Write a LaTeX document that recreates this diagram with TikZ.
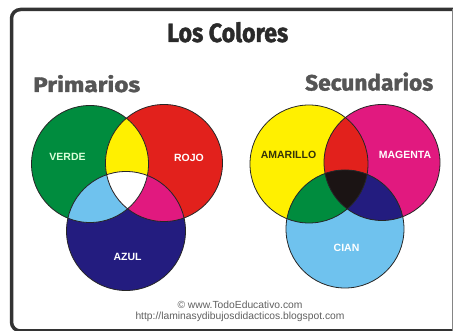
\documentclass[tikz,border=0pt]{standalone}
\usepackage{fontspec}
\setmainfont{Liberation Sans}
\newfontfamily\titlefont{Fira Sans}[BoldFeatures={FakeBold=1.6}]
\usetikzlibrary{positioning}
\definecolor{cgreen}{HTML}{008C3E}
\definecolor{cred}{HTML}{E2211C}
\definecolor{cyellow}{HTML}{FFF000}
\definecolor{cnavy}{HTML}{231C7F}
\definecolor{clight}{HTML}{6FC2EE}
\definecolor{cmag}{HTML}{E1197F}
\definecolor{cblack}{HTML}{1B1414}
\definecolor{ctitle}{HTML}{2A2A2A}
\definecolor{csub}{HTML}{555555}
\definecolor{cfoot}{HTML}{606060}
\definecolor{cframe}{HTML}{333333}
\definecolor{camar}{HTML}{33330A}
\tikzset{
  outline/.style={draw=black!85, line width=0.8pt},
  lbl/.style={font=\fontsize{10.5}{12}\selectfont\bfseries, inner sep=0pt},
  foot/.style={font=\fontsize{10.3}{12}\selectfont, text=cfoot, inner sep=0pt},
  heading/.style={inner sep=0pt, anchor=base west},
}
\begin{document}
\begin{tikzpicture}[x=1pt,y=-1pt]
\useasboundingbox (0,0) rectangle (453,331);
\fill[white] (0,0) rectangle (453,331);
\draw[cframe, line width=3.5pt, rounded corners=9pt] (11.5,9.5) rectangle (470,331);
\draw[cframe!60, line width=1.2pt] (452.6,9.5) -- (452.6,331);

% titles
\node[heading, text=ctitle] (title) at (167,42) {\resizebox{121pt}{20pt}{\titlefont\bfseries Los Colores}};
\node[heading, text=csub] (prim) at (33,92) {\resizebox{107pt}{17pt}{\titlefont\bfseries Primarios}};
\node[heading, text=csub] (secu) at (305,90.5) {\resizebox{128pt}{18pt}{\titlefont\bfseries Secundarios}};

% centres
\coordinate (G) at (90,164);
\coordinate (R) at (164,163);
\coordinate (B) at (126,231);
\coordinate (Y) at (309,164);
\coordinate (M) at (382,162.5);
\coordinate (C) at (345,229);
\def\rG{58.5pt}\def\rR{58.5pt}\def\rB{59.5pt}
\def\rY{59pt}\def\rM{58pt}\def\rC{59pt}

% primarios
\fill[cgreen] (G) circle[radius=\rG];
\fill[cred] (R) circle[radius=\rR];
\fill[cnavy] (B) circle[radius=\rB];
\begin{scope}\clip (G) circle[radius=\rG]; \fill[cyellow] (R) circle[radius=\rR]; \end{scope}
\begin{scope}\clip (G) circle[radius=\rG]; \fill[clight] (B) circle[radius=\rB]; \end{scope}
\begin{scope}\clip (R) circle[radius=\rR]; \fill[cmag] (B) circle[radius=\rB]; \end{scope}
\begin{scope}\clip (G) circle[radius=\rG]; \clip (R) circle[radius=\rR]; \fill[white] (B) circle[radius=\rB]; \end{scope}
\draw[outline] (G) circle[radius=\rG];
\draw[outline] (R) circle[radius=\rR];
\draw[outline] (B) circle[radius=\rB];

% secundarios
\fill[cyellow] (Y) circle[radius=\rY];
\fill[cmag] (M) circle[radius=\rM];
\fill[clight] (C) circle[radius=\rC];
\begin{scope}\clip (Y) circle[radius=\rY]; \fill[cred] (M) circle[radius=\rM]; \end{scope}
\begin{scope}\clip (Y) circle[radius=\rY]; \fill[cgreen] (C) circle[radius=\rC]; \end{scope}
\begin{scope}\clip (M) circle[radius=\rM]; \fill[cnavy] (C) circle[radius=\rC]; \end{scope}
\begin{scope}\clip (Y) circle[radius=\rY]; \clip (M) circle[radius=\rM]; \fill[cblack] (C) circle[radius=\rC]; \end{scope}
\draw[outline] (Y) circle[radius=\rY];
\draw[outline] (M) circle[radius=\rM];
\draw[outline] (C) circle[radius=\rC];

% labels
\node[lbl, text=green!15!white] (verde) at (67.5,157) {VERDE};
\node[lbl, text=white] (rojo) at (189,158) {ROJO};
\node[lbl, text=white] (azul) at (127.5,257) {AZUL};
\node[lbl, text=camar] (amarillo) at (288.5,155) {AMARILLO};
\node[lbl, text=white] (magenta) at (405,155) {MAGENTA};
\node[lbl, text=white] (cian) at (346.5,248) {CIAN};

% footer
\node[foot] (f1) at (240,305) {© www.TodoEducativo.com};
\node[foot] (f2) at (240,317) {http://laminasydibujosdidacticos.blogspot.com};
\end{tikzpicture}
\end{document}
